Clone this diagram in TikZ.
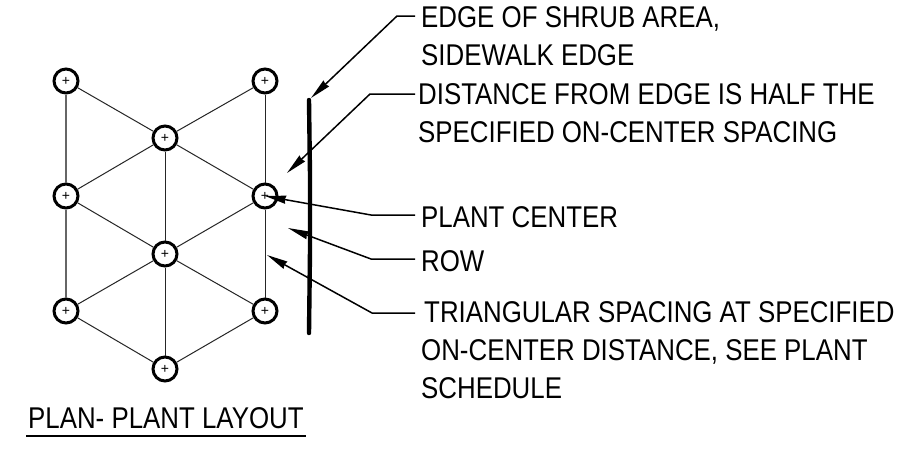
\documentclass[tikz,border=0pt]{standalone}
\usepackage{fontspec}
\setmainfont{Liberation Sans}
\newfontfamily\cadfont[FakeStretch=0.862]{Liberation Sans}
\usetikzlibrary{arrows.meta}
\tikzset{
  plant/.style={circle,draw=black,line width=3pt,fill=white,minimum size=24pt,inner sep=0pt,font=\fontsize{14}{14}\selectfont},
  tie/.style={line width=1pt,draw=black!85},
  tieheavy/.style={line width=1.4pt,draw=black!60},
  leader/.style={line width=1.5pt,-{Stealth[length=21pt,width=8pt,inset=1pt]}},
  note/.style={anchor=north west,align=left,inner xsep=3pt,inner ysep=0pt,font=\cadfont\fontsize{30}{38}\selectfont},
  edgeline/.style={line width=4.4pt,line cap=round,line join=round}
}
\begin{document}
\begin{tikzpicture}[x=1pt,y=-1pt]
\useasboundingbox (0,0) rectangle (898,451);
\fill[white] (0,0) rectangle (898,451);
\node[plant] (p1) at (66,81) {+};
\node[plant] (p2) at (265,81) {+};
\node[plant] (p3) at (165,138) {+};
\node[plant] (p4) at (66,196) {+};
\node[plant] (p5) at (265,196) {+};
\node[plant] (p6) at (165,254) {+};
\node[plant] (p7) at (66,311) {+};
\node[plant] (p8) at (265,311) {+};
\node[plant] (p9) at (165,369) {+};
\foreach \a/\b in {p1/p3,p2/p3,p2/p5,p3/p4,p3/p5,p3/p6,p4/p6,p5/p6,p5/p8,p6/p7,p6/p8,p6/p9,p7/p9,p8/p9}
  \draw[tie] (\a) -- (\b);
\foreach \a/\b in {p1/p4,p4/p7}
  \draw[tieheavy] (\a) -- (\b);
\draw[edgeline] (309,100) -- (310,175) -- (310,250) -- (309,333);
\node[note] (t1) at (418,6) {EDGE OF SHRUB AREA,\\SIDEWALK EDGE};
\node[note] (t2) at (415,83) {DISTANCE FROM EDGE IS HALF THE\\SPECIFIED ON-CENTER SPACING};
\node[note] (t3) at (418,206) {PLANT CENTER};
\node[note] (t4) at (418,250) {ROW};
\node[note] (t5) at (418,301) {\hspace*{3pt}TRIANGULAR SPACING AT SPECIFIED\\ON-CENTER DISTANCE, SEE PLANT\\SCHEDULE};
\node[note,inner xsep=0pt] (t6) at (28,407) {PLAN- PLANT LAYOUT};
\coordinate (e1) at (397,16); \coordinate (a1) at (311,98);
\coordinate (e2) at (370,94); \coordinate (a2) at (287,173);
\coordinate (e3) at (371,215); \coordinate (e4) at (371,259);
\coordinate (a4) at (288,228);
\coordinate (e5) at (372,313); \coordinate (a5) at (267,255);
\draw[leader] (415,16) -- (e1) -- (a1);
\draw[leader] (415,94) -- (e2) -- (a2);
\draw[leader] (415,215) -- (e3) -- (p5.center);
\draw[leader] (415,259) -- (e4) -- (a4);
\draw[leader] (415,313) -- (e5) -- (a5);
\coordinate (u1) at (26,436); \coordinate (u2) at (306,436);
\draw[line width=1.6pt] (u1) -- (u2);
\end{tikzpicture}
\end{document}
